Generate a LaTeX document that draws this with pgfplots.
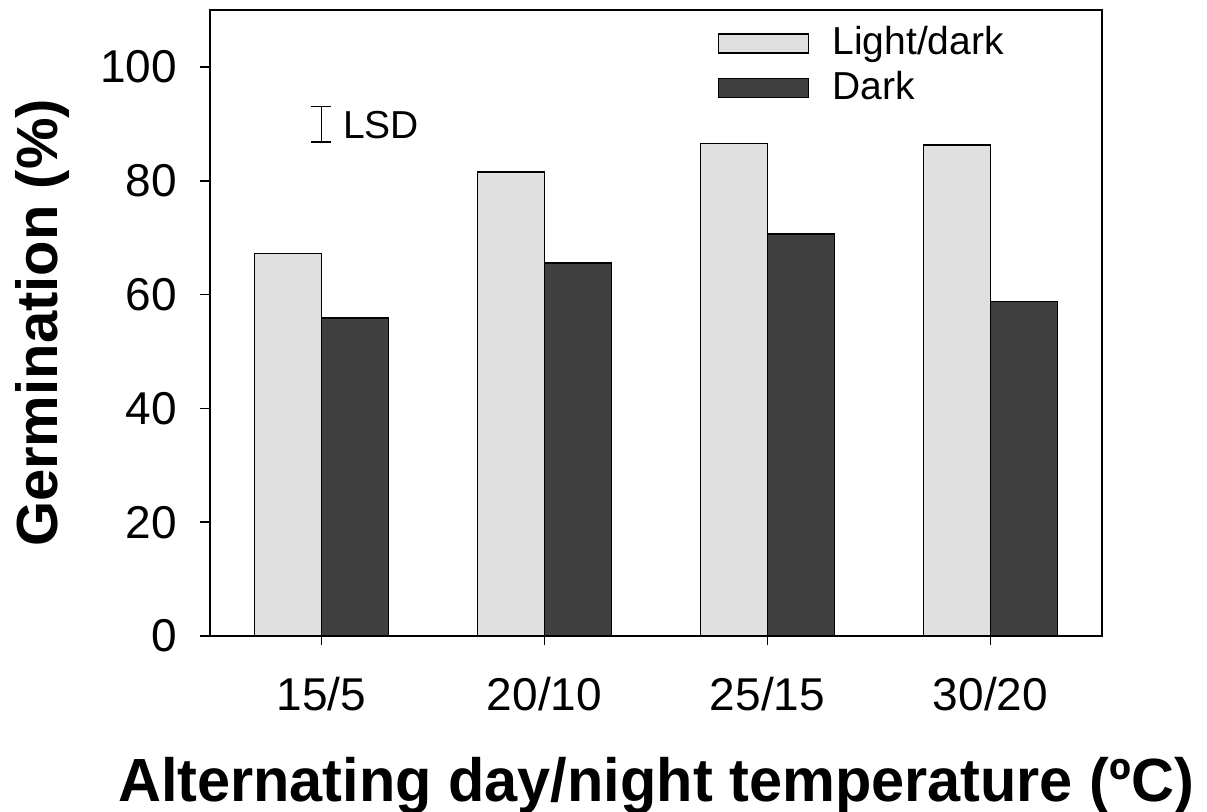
\documentclass[border=0pt]{standalone}
\usepackage{pgfplots}
\pgfplotsset{compat=1.18}
\usepackage{fontspec}
\setmainfont{Liberation Sans}
\usepackage{graphicx}
\definecolor{lightbar}{RGB}{224,224,224}
\definecolor{darkbar}{RGB}{64,64,64}
\begin{document}
\begin{tikzpicture}
\begin{axis}[
  name=ax,
  scale only axis,
  width=446pt, height=313pt,
  xmin=-0.5, xmax=3.5,
  ymin=0, ymax=110,
  xtick={0,1,2,3},
  xticklabels={15/5,20/10,25/15,30/20},
  ytick={0,20,40,60,80,100},
  tick align=outside,
  major tick length=4.75pt,
  xtick pos=bottom, ytick pos=left,
  axis line style={line width=1pt},
  every tick/.style={line width=0.8pt, black},
  /pgf/number format/assume math mode=true,
  tick label style={font=\fontsize{23}{27}\selectfont},
  yticklabel style={anchor=east, inner sep=0pt, xshift=-11.5pt},
  xticklabel style={anchor=north, inner sep=0pt, yshift=-15.5pt},
  xlabel={\fontsize{30.5}{35}\selectfont\bfseries\scalebox{0.975}[1]{Alternating day/night temperature (ºC)}},
  ylabel={\fontsize{29}{34}\selectfont\bfseries Germination (\%)},
  xlabel style={at={(axis description cs:0.5,0)}, anchor=base, inner sep=0pt, yshift=-83pt},
  ylabel style={at={(axis description cs:0,0.5)}, anchor=north, inner sep=0pt, yshift=97.5pt},
  legend cell align=left,
  legend style={draw=none, fill=none, inner sep=0pt, outer sep=0pt,
    at={(axis description cs:0.5695,0.9848)}, anchor=north west,
    font=\fontsize{19.5}{23}\selectfont,
    nodes={inner sep=0pt}, row sep=1.5pt, column sep=11.5pt},
  legend image code/.code={\path (0pt,-9pt) (0pt,11pt); \draw[#1, line width=0.75pt] (0pt,-5.25pt) rectangle (45pt,4.25pt);},
]
\addplot[ybar, bar width=0.3, bar shift=-0.15, fill=lightbar, draw=black, line width=0.75pt]
  coordinates {(0,67.2) (1,81.5) (2,86.5) (3,86.3)};
\addlegendentry{Light/dark}
\addplot[ybar, bar width=0.3, bar shift=0.15, fill=darkbar, draw=black, line width=0.75pt]
  coordinates {(0,55.9) (1,65.5) (2,70.6) (3,58.8)};
\addlegendentry{Dark}
\addplot[forget plot, draw=none, mark=none,
  error bars/.cd, y dir=both, y explicit,
  error bar style={line width=0.6pt, black},
  error mark options={rotate=90, mark size=5pt, line width=0.6pt, black}]
  coordinates {(0,89.95) +- (0,3.15)};
\node[anchor=west, inner sep=0pt, font=\fontsize{19.5}{23}\selectfont] at (axis cs:0.095,89.8) {LSD};
\end{axis}
\pgfresetboundingbox
\path[use as bounding box] ([shift={(-105pt,-88pt)}]ax.south west) rectangle ++(603.5pt,406pt);
\end{tikzpicture}
\end{document}
